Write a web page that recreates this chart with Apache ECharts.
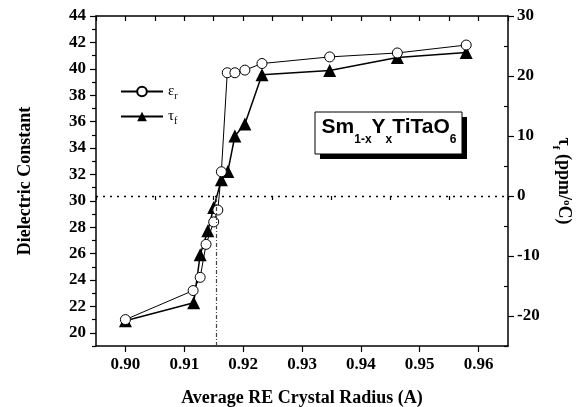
<!DOCTYPE html>
<html><head><meta charset="utf-8">
<script src="https://cdn.jsdelivr.net/npm/echarts@6/dist/echarts.min.js"></script>
<style>html,body{margin:0;padding:0;background:#fff}#c{width:578px;height:407px}</style>
</head><body><div id="c"></div>
<script>
// Data
const radiusEps = [0.9000, 0.9115, 0.9127, 0.9137, 0.9150, 0.9157, 0.9163, 0.9173, 0.9186, 0.9203, 0.9232, 0.9347, 0.9462, 0.9579];
const epsR      = [21.0, 23.2, 24.2, 26.7, 28.4, 29.3, 32.2, 39.7, 39.7, 39.9, 40.4, 40.9, 41.2, 41.8];
const radiusTau = [0.9000, 0.9116, 0.9127, 0.9140, 0.9150, 0.9163, 0.9174, 0.9186, 0.9203, 0.9232, 0.9347, 0.9462, 0.9579];
const tauF      = [-20.8, -17.8, -9.8, -5.8, -1.9, 2.7, 4.1, 10.0, 12.0, 20.2, 20.9, 23.1, 23.9];
const xMajor = [0.90, 0.91, 0.92, 0.93, 0.94, 0.95, 0.96];
const xMinor = [0.895, 0.905, 0.915, 0.925, 0.935, 0.945, 0.955, 0.965];
const yLeftMajor = [20, 22, 24, 26, 28, 30, 32, 34, 36, 38, 40, 42, 44];
const yLeftMinor = [19, 21, 23, 25, 27, 29, 31, 33, 35, 37, 39, 41, 43];
const yRightMajor = [-20, -10, 0, 10, 20, 30];
const yRightMinor = [-25, -15, -5, 5, 15, 25];
const zeroTau = 0;
const crossRadius = 0.9155;
const crossEps = 30.36;

const serif = '"Liberation Serif", "Times New Roman", serif';
const sans = '"Liberation Sans", Arial, sans-serif';
const black = '#000';
const lbl = {fontFamily: serif, fontWeight: 'bold', fontSize: 17, color: black};

const chart = echarts.init(document.getElementById('c'), null, {renderer: 'canvas'});
const xBase = {type: 'value', min: 0.895, max: 0.965, gridIndex: 0, splitLine: {show: false}};
const yLBase = {type: 'value', min: 19, max: 44, splitLine: {show: false}};
const yRBase = {type: 'value', min: -25, max: 30, splitLine: {show: false}};

chart.setOption({
  animation: false,
  backgroundColor: '#fff',
  grid: {left: 96, right: 70, top: 16, bottom: 61, containLabel: false, outerBoundsMode: 'none'},
  xAxis: [
    Object.assign({}, xBase, {position: 'bottom',
      name: 'Average RE Crystal Radius (A)', nameLocation: 'middle', nameGap: 43,
      nameTextStyle: {fontFamily: serif, fontWeight: 'bold', fontSize: 18, color: black},
      axisLine: {show: true, onZero: false, lineStyle: {color: black, width: 1.5}},
      axisTick: {show: true, inside: false, length: 6, customValues: xMajor, lineStyle: {color: black, width: 1.2}},
      axisLabel: Object.assign({show: true, margin: 10, customValues: xMajor, formatter: v => Number(v).toFixed(2)}, lbl)}),
    Object.assign({}, xBase, {position: 'bottom',
      axisLine: {show: false},
      axisTick: {show: true, inside: false, length: 4, customValues: xMinor, lineStyle: {color: black, width: 1.2}},
      axisLabel: {show: false}}),
    Object.assign({}, xBase, {position: 'top',
      axisLine: {show: true, onZero: false, lineStyle: {color: black, width: 1.5}},
      axisTick: {show: true, inside: true, length: 5, customValues: xMajor.concat(xMinor), lineStyle: {color: black, width: 1.2}},
      axisLabel: {show: false}})
  ],
  yAxis: [
    Object.assign({}, yLBase, {position: 'left',
      name: 'Dielectric Constant', nameLocation: 'middle', nameGap: 62, nameRotate: 90,
      nameTextStyle: {fontFamily: serif, fontWeight: 'bold', fontSize: 18, color: black},
      axisLine: {show: true, onZero: false, lineStyle: {color: black, width: 1.5}},
      axisTick: {show: true, inside: false, length: 6, customValues: yLeftMajor, lineStyle: {color: black, width: 1.2}},
      axisLabel: Object.assign({show: true, margin: 10, customValues: yLeftMajor}, lbl)}),
    Object.assign({}, yRBase, {position: 'right',
      name: '{t|τ}{s|f}{t| (ppm/}{u|o}{t|C)}', nameLocation: 'middle', nameGap: 44, nameRotate: -90,
      nameTextStyle: {fontFamily: serif, fontWeight: 'bold', fontSize: 18, color: black,
        rich: {t: {fontFamily: serif, fontWeight: 'bold', fontSize: 18, color: black, verticalAlign: 'top', lineHeight: 20},
               s: {fontFamily: serif, fontWeight: 'bold', fontSize: 11, color: black, verticalAlign: 'top', lineHeight: 11, padding: [11, 0, 0, 0]},
               u: {fontFamily: serif, fontWeight: 'bold', fontSize: 11, color: black, verticalAlign: 'top', lineHeight: 11, padding: [0, 0, 0, 0]}}},
      axisLine: {show: true, onZero: false, lineStyle: {color: black, width: 1.5}},
      axisTick: {show: true, inside: false, length: 6, customValues: yRightMajor, lineStyle: {color: black, width: 1.2}},
      axisLabel: Object.assign({show: true, margin: 9, customValues: yRightMajor}, lbl)}),
    Object.assign({}, yLBase, {position: 'left',
      axisLine: {show: false},
      axisTick: {show: true, inside: false, length: 4, customValues: yLeftMinor, lineStyle: {color: black, width: 1.2}},
      axisLabel: {show: false}}),
    Object.assign({}, yRBase, {position: 'right',
      axisLine: {show: false},
      axisTick: {show: true, inside: true, length: 4, customValues: yRightMinor, lineStyle: {color: black, width: 1.2}},
      axisLabel: {show: false}})
  ],
  legend: {
    show: true, orient: 'vertical', left: 115, top: 79, itemWidth: 42, itemHeight: 12, itemGap: 8,
    data: ['εr', 'τf'],
    formatter: n => n === 'εr' ? '{m|ε}{s|r}' : '{m|τ}{s|f}',
    textStyle: {color: black, rich: {
      m: {fontFamily: serif, fontSize: 15, color: black, verticalAlign: 'top', lineHeight: 15},
      s: {fontFamily: serif, fontSize: 10, color: black, verticalAlign: 'top', lineHeight: 10, padding: [7, 0, 0, 0]}}}
  },
  series: [
    {
      name: 'τf', type: 'line', xAxisIndex: 0, yAxisIndex: 1, z: 3,
      data: radiusTau.map((x, i) => [x, tauF[i]]),
      symbol: 'triangle', symbolSize: 13, showSymbol: true,
      lineStyle: {color: black, width: 1.5},
      itemStyle: {color: black, borderColor: black, borderWidth: 0},
      markLine: {silent: true, symbol: 'none', label: {show: false},
        lineStyle: {color: black, width: 1.3, type: [2, 5]},
        data: [{yAxis: zeroTau}]}
    },
    {
      name: 'εr', type: 'line', xAxisIndex: 0, yAxisIndex: 0, z: 4,
      data: radiusEps.map((x, i) => [x, epsR[i]]),
      symbol: 'circle', symbolSize: 10, showSymbol: true,
      lineStyle: {color: black, width: 1},
      itemStyle: {color: '#fff', borderColor: black, borderWidth: 1},
      markLine: {silent: true, symbol: 'none', label: {show: false},
        lineStyle: {color: '#444', width: 1.2, type: [4, 2, 1, 2]},
        data: [[{coord: [crossRadius, 19]}, {coord: [crossRadius, crossEps]}]]}
    }
  ],
  graphic: [
    {type: 'rect', shape: {x: 320, y: 117, width: 147, height: 42}, style: {fill: black}, z: 10},
    {type: 'rect', shape: {x: 315, y: 112, width: 147, height: 42}, style: {fill: '#fff', stroke: black, lineWidth: 1}, z: 11},
    {type: 'text', x: 389, y: 117, z: 12, style: {
      text: '{b|Sm}{s|1-x}{b|Y}{s|x}{b|TiTaO}{s|6}', align: 'center', verticalAlign: 'top',
      rich: {
        b: {fontFamily: sans, fontWeight: 'bold', fontSize: 21, fill: black, verticalAlign: 'top', lineHeight: 22},
        s: {fontFamily: sans, fontWeight: 'bold', fontSize: 12, fill: black, verticalAlign: 'top', lineHeight: 12, padding: [17, 0, 0, 0]}
      }}}
  ]
});
</script></body></html>
